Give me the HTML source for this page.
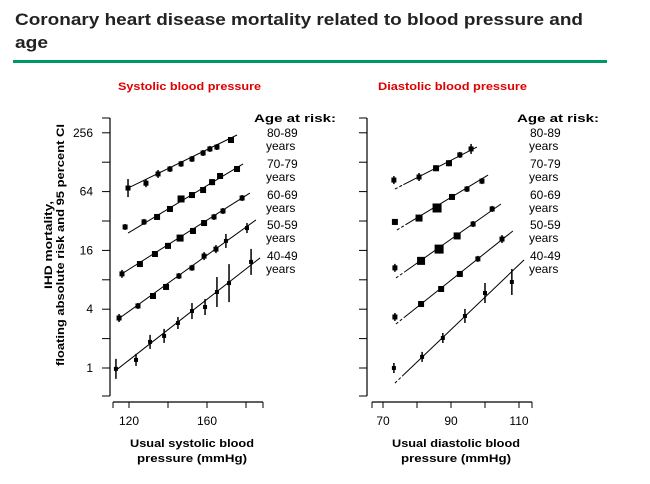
<!DOCTYPE html>
<html><head><meta charset="utf-8"><style>
body{margin:0;background:#fff;font-family:"Liberation Sans",sans-serif;}
svg text{font-family:"Liberation Sans",sans-serif;}
</style></head><body>
<svg id="c" width="650" height="479" xmlns="http://www.w3.org/2000/svg">
<text x="15" y="25" font-size="17" font-weight="bold" fill="#222" textLength="568" lengthAdjust="spacingAndGlyphs">Coronary heart disease mortality related to blood pressure and</text>
<text x="15" y="48" font-size="17" font-weight="bold" fill="#222" textLength="33" lengthAdjust="spacingAndGlyphs">age</text>
<rect x="13" y="60" width="594" height="3" fill="#009966"/>
<text x="118" y="90" font-size="11" font-weight="bold" fill="#e00000" textLength="143" lengthAdjust="spacingAndGlyphs">Systolic blood pressure</text>
<text x="378" y="90" font-size="11" font-weight="bold" fill="#e00000" textLength="149" lengthAdjust="spacingAndGlyphs">Diastolic blood pressure</text>
<g transform="translate(48,245) rotate(-90)">
<text x="0" y="4" font-size="11" font-weight="bold" text-anchor="middle" textLength="88" lengthAdjust="spacingAndGlyphs">IHD mortality,</text>
<text x="0" y="16" font-size="11" font-weight="bold" text-anchor="middle" textLength="242" lengthAdjust="spacingAndGlyphs">floating absolute risk and 95 percent CI</text>
</g>
<text x="192" y="447" font-size="11" font-weight="bold" text-anchor="middle" textLength="124" lengthAdjust="spacingAndGlyphs">Usual systolic blood</text>
<text x="192" y="462" font-size="11" font-weight="bold" text-anchor="middle" textLength="110" lengthAdjust="spacingAndGlyphs">pressure (mmHg)</text>
<text x="456" y="447" font-size="11" font-weight="bold" text-anchor="middle" textLength="128" lengthAdjust="spacingAndGlyphs">Usual diastolic blood</text>
<text x="456" y="462" font-size="11" font-weight="bold" text-anchor="middle" textLength="110" lengthAdjust="spacingAndGlyphs">pressure (mmHg)</text>
<g id="plot"></g>
</svg>
<script>
const yTicks=[1,4,16,64,256];
const ageGroups=["80-89","70-79","60-69","50-59","40-49"];
const sysX=[[119.5,128.7,134.9,141,146.7,152.3,158,161.5,165.1,172.3],[118,127.7,134.4,141,146.7,152.3,158,162.6,166.7,175.4],[116.4,125.6,133.3,140,146.2,152.8,158.5,163.6,168.2,178],[114.9,124.6,132.3,139,145.6,152.3,158.5,164.6,169.7,180.5],[113.3,123.6,130.8,138,145.1,152.3,159,165.1,171.3,182.6]];
const sysV=[[69.6,78,97,109,123,138,159,175,183,216],[27.8,31.3,35.2,42.5,53.8,59,66.4,80,92.5,109],[9.2,11.6,14.7,17.8,21.4,25.3,30.5,35.2,40.5,55],[3.25,4.32,5.46,6.76,8.75,10.6,14.0,16.5,20.0,27.1],[0.98,1.21,1.85,2.13,2.89,3.83,4.21,6.0,7.4,12.2]];
const sysErr=[[9,4,4,3,3,3,3,3,3,3],[3,3,3,3,3,3,3,3,3,3],[4,3,3,3,3,3,3,3,3,3],[4,3,3,3,3,3,4,4,7,5],[10,6,7,7,6,8,8,15,19,13]];
const sysSize=[[5,5,5,5,5,5,5,5,5,6],[5,5,6,6,7,6,6,6,6,6],[5,6,6,6,7,6,6,5,5,5],[5,5,6,6,5,5,5,5,4,4],[4,4,4,4,4,4,4,4,4,4]];
const sysLine=[[119.5,69.6,175.4,243],[119.5,24.1,178.5,123],[115.4,8.96,182,61.9],[113.8,3.10,185.1,32.8],[112.8,0.93,187.2,13.4]];
const diaX=[[73.2,80.6,85.6,89.4,92.6,95.9],[73.5,80.6,85.9,90.3,94.7,99.1],[73.5,81.2,86.5,91.8,96.5,102.1],[73.5,81.2,87.1,92.6,97.9,105],[73.2,81.5,87.6,94.1,100,107.9]];
const diaV=[[84,90.3,111,125,152,175],[31.3,34.3,43.5,56.4,68,82],[10.6,12.5,16.5,22.5,29.8,42.5],[3.33,4.52,6.44,9.18,13.1,20.9],[1.0,1.30,2.03,3.41,5.86,7.6]];
const diaErr=[[4,4,3,3,3,5],[3,3,3,3,3,3],[4,3,3,3,3,3],[4,3,3,3,3,4],[5,5,5,7,10,13]];
const diaSize=[[5,5,6,6,5,5],[6,7,9,6,5,5],[5,8,9,7,5,5],[5,6,6,6,5,5],[4,4,4,4,4,4]];
const diaLine=[[73.5,68,97.6,183],[74.1,25.9,100.9,94.6],[73.8,8.35,104.7,47.8],[73.8,2.82,108.2,25.3],[73.5,0.70,111.5,12.8]];
const sysTicks=[120,140,160,180], sysTickLabels=["120","160"];
const diaTicks=[70,80,90,100,110], diaTickLabels=["70","90","110"];

const NS="http://www.w3.org/2000/svg";
const g=document.getElementById('plot');
function mk(t,a,p){const e=document.createElementNS(NS,t);for(const k in a)e.setAttribute(k,a[k]);(p||g).appendChild(e);return e;}
const yS=v=>368-29.4*Math.log2(v);
const xS=s=>129+(s-120)*1.95;
const xD=d=>383+(d-70)*3.4;

function axes(ax,xFn,ticks,labels,x0,x1,name){
  let e=mk('line',{x1:ax,y1:118,x2:ax,y2:396,stroke:'#000','stroke-width':1.2});
  
  
  [118,396].forEach(y=>mk('line',{x1:ax-8,y1:y,x2:ax,y2:y,stroke:'#000'}));
  for(let i=0;i<=8;i++){const v=Math.pow(2,i);const y=yS(v);
    mk('line',{x1:ax-8,y1:y,x2:ax,y2:y,stroke:'#000'});}
  if(name==='left'){yTicks.forEach(v=>{
    const t=mk('text',{x:ax-17,y:yS(v)+4,'font-size':12,'text-anchor':'end'});t.textContent=v;
    
    });}
  e=mk('line',{x1:x0,y1:402,x2:x1,y2:402,stroke:'#000','stroke-width':1.2});
  
  
  [x0,x1].forEach(x=>mk('line',{x1:x,y1:402,x2:x,y2:408,stroke:'#000'}));
  ticks.forEach(s=>mk('line',{x1:xFn(s),y1:402,x2:xFn(s),y2:408,stroke:'#000'}));
  labels.forEach(l=>{const t=mk('text',{x:xFn(+l),y:425,'font-size':12,'text-anchor':'middle'});t.textContent=l;
    
    });
}
axes(110,xS,sysTicks,sysTickLabels,113,263,'left');
axes(367,xD,diaTicks,diaTickLabels,372,532,'right');

function series(X,V,E,S,L,xFn,dashed,pname){
  X.forEach((xs,gi)=>{
    const grp=mk('g',{});
    
    
    const l=L[gi];
    if(dashed){
      const xm=l[0]+2.5, vm=Math.exp(Math.log(l[1])+(Math.log(l[3])-Math.log(l[1]))*(xm-l[0])/(l[2]-l[0]));
      mk('line',{x1:xFn(l[0]),y1:yS(l[1]),x2:xFn(xm),y2:yS(vm),stroke:'#000','stroke-dasharray':'3,2'},grp);
      mk('line',{x1:xFn(xm),y1:yS(vm),x2:xFn(l[2]),y2:yS(l[3]),stroke:'#000'},grp);
    } else mk('line',{x1:xFn(l[0]),y1:yS(l[1]),x2:xFn(l[2]),y2:yS(l[3]),stroke:'#000'},grp);
    xs.forEach((x,i)=>{
      const px=xFn(x),py=yS(V[gi][i]),s=S[gi][i];
      mk('line',{x1:px,y1:py-E[gi][i],x2:px,y2:py+E[gi][i],stroke:'#000','stroke-width':1.5},grp);
      const r=mk('rect',{x:px-s/2,y:py-s/2,width:s,height:s,fill:'#000'},grp);
      
      
    });
  });
}
series(sysX,sysV,sysErr,sysSize,sysLine,xS,false,'systolic');
series(diaX,diaV,diaErr,diaSize,diaLine,xD,true,'diastolic');

function legend(x,name){
  let t=mk('text',{x:x-13,y:122,'font-size':11,'font-weight':'bold',textLength:82,lengthAdjust:'spacingAndGlyphs'});t.textContent='Age at risk:';
  
  
  const ys=[137,168,199,229,260];
  ageGroups.forEach((a,i)=>{
    const e=mk('text',{x:x,y:ys[i],'font-size':12});e.textContent=a;
    
    
    const f=mk('text',{x:x-1,y:ys[i]+13,'font-size':12});f.textContent='years';
  });
}
legend(267,'left');
legend(530,'right');
</script>
</body></html>
